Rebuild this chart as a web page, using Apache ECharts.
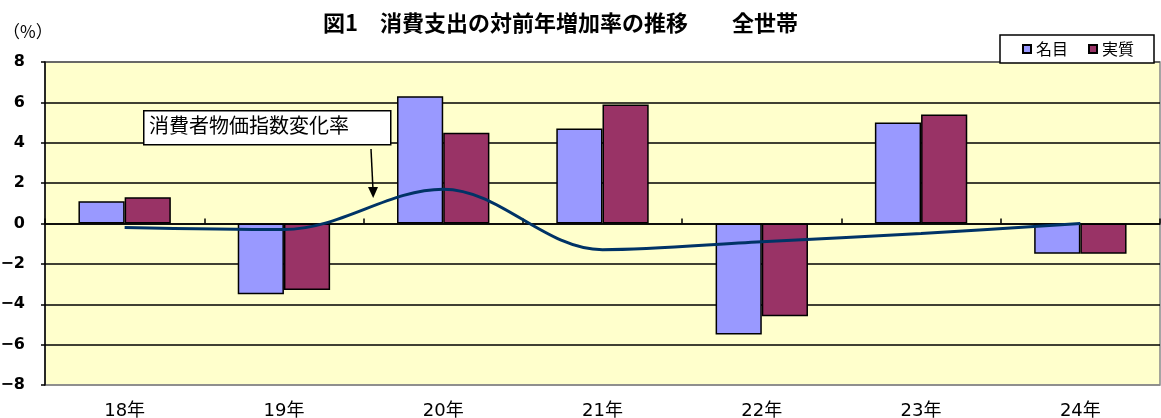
<!DOCTYPE html>
<html>
<head>
<meta charset="utf-8">
<script src="https://cdn.jsdelivr.net/npm/echarts@6/dist/echarts.min.js"></script>
<style>
html,body{margin:0;padding:0;background:#fff;}
#chart{width:1161px;height:418px;}
</style>
</head>
<body>
<div id="chart"></div>
<script>
const categories = ['18年','19年','20年','21年','22年','23年','24年'];
const nominal = [1.1, -3.5, 6.3, 4.7, -5.5, 5.0, -1.5];
const real = [1.3, -3.3, 4.5, 5.9, -4.6, 5.4, -1.5];
const cpi = [-0.2, -0.3, 1.7, -1.3, -0.9, -0.5, 0.0];
const yTicks = {min: -8, max: 8, interval: 2};

const FONT = '"Noto Sans CJK JP", "Noto Sans", sans-serif';
const NUMFONT = '"DejaVu Sans", "Noto Sans CJK JP", sans-serif';
const chart = echarts.init(document.getElementById('chart'), null, {renderer: 'canvas'});

const option = {
  backgroundColor: '#ffffff',
  animation: false,
  textStyle: {fontFamily: FONT},
  title: {
    text: '図1　消費支出の対前年増加率の推移　　全世帯',
    left: 318, top: 7,
    textStyle: {fontFamily: FONT, fontSize: 22, fontWeight: 'bold', color: '#000'}
  },
  legend: {
    data: ['名目', '実質'],
    left: 1000, top: 35,
    backgroundColor: '#ffffff',
    borderColor: '#000', borderWidth: 1.5,
    padding: [6, 20, 6, 22],
    itemWidth: 8, itemHeight: 8, itemGap: 20,
    icon: 'rect',
    textStyle: {fontFamily: FONT, fontSize: 16, color: '#000'}
  },
  grid: {
    left: 45, right: 1, top: 62, bottom: 33,
    outerBoundsMode: 'none', containLabel: false,
    show: true, backgroundColor: '#FFFFCC', borderColor: '#888', borderWidth: 1.5
  },
  graphic: [
    {
      type: 'rect', left: 143, top: 110, z: 100,
      shape: {width: 247, height: 34},
      style: {fill: '#ffffff', stroke: '#000', lineWidth: 1.5}
    },
    {
      type: 'text', left: 149, top: 115, z: 101,
      style: {text: '消費者物価指数変化率', font: 'normal 20px ' + FONT, fill: '#000'}
    },
    {
      type: 'line', z: 101,
      shape: {x1: 371, y1: 149, x2: 373, y2: 190},
      style: {stroke: '#000', lineWidth: 1.5}
    },
    {
      type: 'polygon', z: 101,
      shape: {points: [[368, 187], [378, 187], [373.2, 198]]},
      style: {fill: '#000'}
    }
  ],
  xAxis: [
    {
      type: 'category', data: categories, position: 'bottom',
      axisLine: {show: false, onZero: false},
      axisTick: {show: false},
      axisLabel: {fontFamily: NUMFONT, fontSize: 18, color: '#000', margin: 17},
      splitLine: {show: false}
    },
    {
      type: 'category', data: categories, position: 'bottom',
      axisLine: {show: true, onZero: true, lineStyle: {color: '#000', width: 1.5}},
      axisTick: {show: true, inside: true, length: 5, lineStyle: {color: '#000', width: 1.5}},
      axisLabel: {show: false},
      splitLine: {show: false}
    }
  ],
  yAxis: {
    type: 'value', min: yTicks.min, max: yTicks.max, interval: yTicks.interval,
    name: '（%）', nameLocation: 'end', nameGap: 22,
    nameTextStyle: {fontFamily: FONT, fontSize: 17, color: '#000', align: 'left', padding: [0, 0, 0, -42]},
    axisLine: {show: true, lineStyle: {color: '#000', width: 1.5}},
    axisTick: {show: true, length: 4, lineStyle: {color: '#000', width: 1.5}},
    axisLabel: {
      fontFamily: NUMFONT, fontSize: 16, fontWeight: 'bold', color: '#000', margin: 20,
      formatter: v => v < 0 ? '−' + Math.abs(v) : String(v)
    },
    splitLine: {show: true, lineStyle: {color: ['#888', '#000', '#000', '#000', '#000', '#000', '#000', '#000', '#555'], width: 1.5}}
  },
  series: [
    {
      name: '名目', type: 'bar', data: nominal, xAxisIndex: 0,
      barGap: '0%', barCategoryGap: '42%',
      itemStyle: {color: '#9999FF', borderColor: '#000', borderWidth: 1.5}
    },
    {
      name: '実質', type: 'bar', data: real, xAxisIndex: 0,
      barGap: '0%', barCategoryGap: '42%',
      itemStyle: {color: '#993366', borderColor: '#000', borderWidth: 1.5}
    },
    {
      name: '消費者物価指数変化率', type: 'line', data: cpi, xAxisIndex: 0,
      smooth: 0.35, symbol: 'none', z: 10,
      lineStyle: {color: '#003366', width: 3}
    }
  ]
};
chart.setOption(option);
</script>
</body>
</html>
